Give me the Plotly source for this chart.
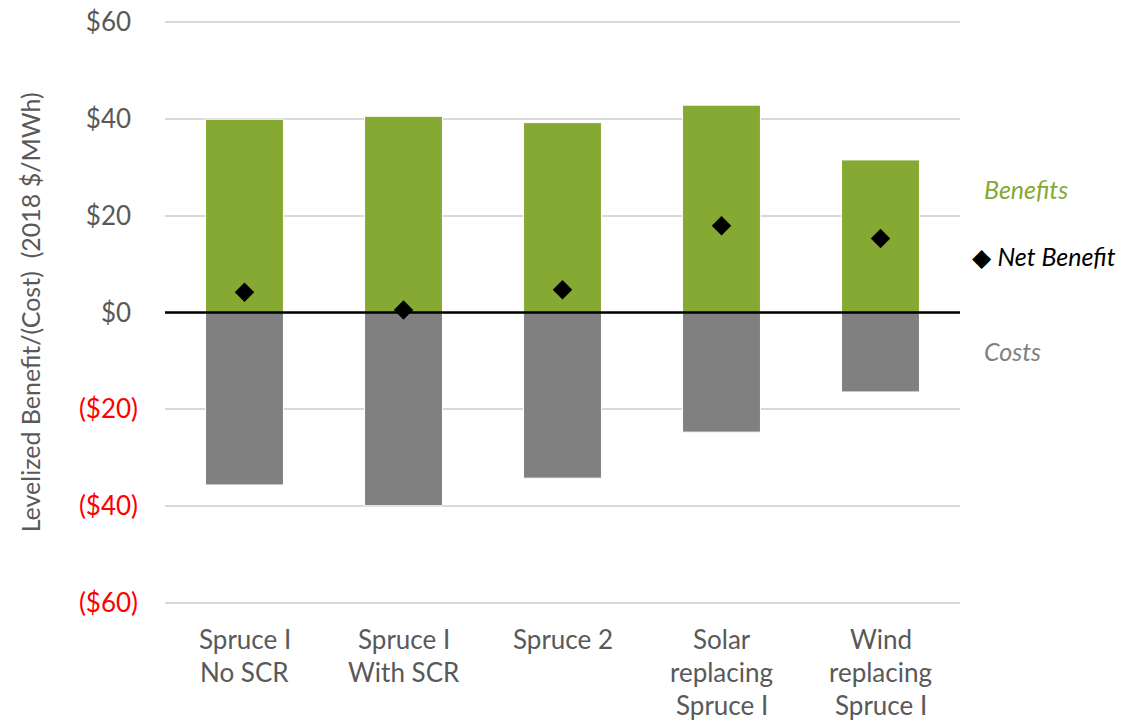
import plotly.graph_objects as go

# Scenario data (2018 $/MWh)
categories = ["Spruce 1 No SCR", "Spruce 1 With SCR", "Spruce 2",
              "Solar replacing Spruce 1", "Wind replacing Spruce 1"]
category_lines = [["Spruce I", "No SCR"],
                  ["Spruce I", "With SCR"],
                  ["Spruce 2"],
                  ["Solar", "replacing", "Spruce I"],
                  ["Wind", "replacing", "Spruce I"]]
benefits = [39.9, 40.5, 39.2, 42.8, 31.5]
costs = [-35.6, -39.9, -34.2, -24.7, -16.4]
net_benefit = [4.2, 0.5, 4.7, 17.9, 15.3]

y_ticks = [60, 40, 20, 0, -20, -40, -60]
y_tick_labels = ["$60", "$40", "$20", "$0", "($20)", "($40)", "($60)"]

GREEN = "#86A933"
GREY = "#808080"
TEXT = "#595959"
FONT = "Lato"

def tick_label(v, label):
    # accounting-style: negatives in red parentheses, positives padded by a hidden ")"
    if v < 0:
        return f'<span style="color:#FF0000">{label}</span>'
    return f'{label}<span style="color:rgba(0,0,0,0)">)</span>'

fig = go.Figure()
fig.add_trace(go.Bar(x=categories, y=benefits, name="Benefits",
                     marker=dict(color=GREEN, line=dict(color="white", width=1)),
                     width=0.49))
fig.add_trace(go.Bar(x=categories, y=costs, name="Costs",
                     marker=dict(color=GREY, line=dict(color="white", width=1)),
                     width=0.49))
fig.add_trace(go.Scatter(x=categories, y=net_benefit, mode="markers", name="Net Benefit",
                         marker=dict(symbol="diamond", size=15, color="black")))

# Zero baseline
fig.add_shape(type="line", xref="paper", yref="y", x0=0, x1=1, y0=0, y1=0,
              line=dict(color="black", width=2.5), layer="above")

# Page geometry
W, H = 1123, 723
L, R, T, B = 165, 163, 17, 115

# Category labels, one line at a time for wider line spacing
for cat, lines in zip(categories, category_lines):
    for i, line in enumerate(lines):
        fig.add_annotation(x=cat, xref="x", y=0, yref="paper", text=line,
                           showarrow=False, yanchor="middle", xanchor="center",
                           yshift=-31 - 33 * i,
                           font=dict(family=FONT, size=26, color=TEXT))

# Y axis title
fig.add_annotation(x=-0.17, xref="paper", y=0.5, yref="paper",
                   text="Levelized Benefit/(Cost)  (2018 $/MWh)", textangle=-90,
                   showarrow=False, xanchor="center", yanchor="middle",
                   font=dict(family=FONT, size=25, color=TEXT))

# Legend labels at the right of the plot
legend_items = [("<i>Benefits</i>", GREEN, 189, 982),
                ("◆ <i>Net Benefit</i>", "black", 256, 970),
                ("<i>Costs</i>", GREY, 351, 982)]
for text, color, ypx, xpx in legend_items:
    fig.add_annotation(x=(xpx - L) / (W - L - R), xref="paper",
                       y=1 - (ypx - T) / (H - T - B), yref="paper",
                       text=text, showarrow=False, xanchor="left", yanchor="middle",
                       font=dict(family=FONT, size=25, color=color))

fig.update_layout(
    width=W, height=H,
    margin=dict(l=L, r=R, t=T, b=B, autoexpand=False),
    paper_bgcolor="white", plot_bgcolor="white",
    barmode="relative",
    showlegend=False,
    font=dict(family=FONT, size=26, color=TEXT),
    xaxis=dict(showticklabels=False, showgrid=False, zeroline=False,
               showline=False, ticks=""),
    yaxis=dict(range=[-61, 61], tickvals=y_ticks,
               ticktext=[tick_label(v, t) for v, t in zip(y_ticks, y_tick_labels)],
               showgrid=True, gridcolor="#D9D9D9", gridwidth=1.5,
               zeroline=False, showline=False, ticks="", automargin=False,
               ticklabelstandoff=26,
               tickfont=dict(family=FONT, size=26, color=TEXT)),
)

fig.write_html("out.html")
